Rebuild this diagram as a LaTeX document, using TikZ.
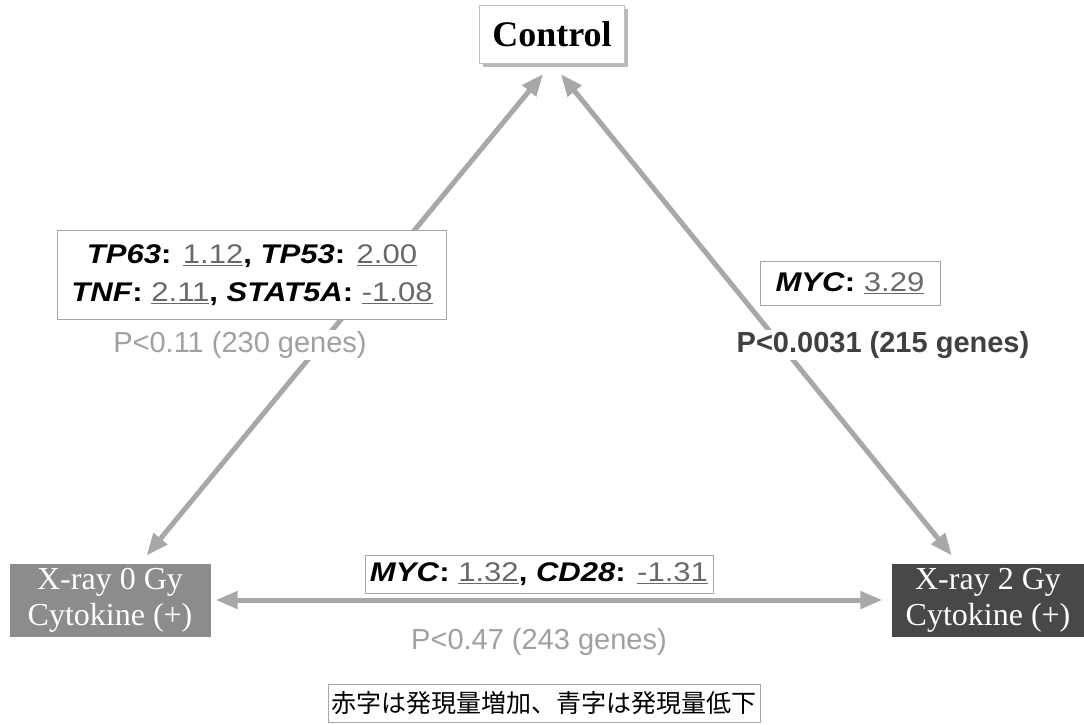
\documentclass[tikz,border=0pt]{standalone}
\usepackage{fontspec}
\setmainfont{Liberation Serif}
\setsansfont{Liberation Sans}
\newfontfamily\genefont[FakeStretch=1.15]{Liberation Sans}
\newfontfamily\jpfont{Noto Sans CJK JP}
\usepackage{xcolor}
\definecolor{arrowgray}{RGB}{168,168,168}
\definecolor{lightcond}{RGB}{140,140,140}
\definecolor{darkcond}{RGB}{72,72,72}
\definecolor{valgray}{RGB}{105,105,105}
\definecolor{pgray}{RGB}{160,160,160}
\definecolor{pdark}{RGB}{64,64,64}
\usetikzlibrary{arrows.meta,shadows}
\newcommand{\gval}[1]{\textcolor{valgray}{\underline{#1}}}
\newcommand{\gname}[1]{\textbf{\textit{#1}:}}
\tikzset{
  ctrlbox/.style={draw=gray!50, fill=white, font=\bfseries\fontsize{36}{40}\selectfont,
                  minimum width=145pt, minimum height=58pt,
                  drop shadow={shadow xshift=3pt, shadow yshift=-4pt, fill=gray!55, opacity=1}},
  condbox/.style={fill=#1, text=white, font=\fontsize{32}{36}\selectfont, align=center,
                  minimum height=73pt, inner sep=0pt},
  genebox/.style={draw=gray!70, line width=0.6pt, fill=white, align=center,
                  font=\genefont\fontsize{27}{38}\selectfont, inner sep=4pt},
  pval/.style={text=#1, fill=white, inner sep=1pt, font=\sffamily\fontsize{29}{32}\selectfont},
  notebox/.style={draw=gray!70, line width=0.6pt, fill=white,
                  font=\jpfont\fontsize{25}{28}\selectfont, minimum width=428pt, minimum height=38pt},
  dblarrow/.style={{Triangle[length=22pt,width=17pt]}-{Triangle[length=22pt,width=17pt]},
                   line width=5pt, draw=arrowgray},
}
\begin{document}
\begin{tikzpicture}[x=1pt, y=-1pt]
\useasboundingbox (0,0) rectangle (1084,724);
% the three conditions
\node[ctrlbox] (ctrl) at (552,34) {Control};
\node[condbox=lightcond, minimum width=201pt] (x0) at (110,600) {X-ray 0 Gy\\Cytokine (+)};
\node[condbox=darkcond, minimum width=193pt] (x2) at (988,600) {X-ray 2 Gy\\Cytokine (+)};

% comparisons
\draw[dblarrow, shorten <=14pt, shorten >=10pt] (ctrl.south) -- (x0);
\draw[dblarrow, shorten <=14pt, shorten >=10pt] (ctrl.south) -- (x2);
\draw[dblarrow, shorten <=5pt, shorten >=9pt] (x0) -- (x2);

% genes and p-values
\node[genebox, minimum width=389pt, minimum height=89pt] (lgenes) at (252,275)
  {\gname{TP63} \gval{1.12}\textbf{,} \gname{TP53} \gval{2.00}\\\gname{TNF} \gval{2.11}\textbf{,} \gname{STAT5A} \gval{-1.08}};
\node[pval=pgray] (lp) at (240,345) {P<0.11 (230 genes)};

\node[genebox, minimum width=180pt, minimum height=44pt] (rgenes) at (850,283)
  {\gname{MYC} \gval{3.29}};
\node[pval=pdark, font=\sffamily\bfseries\fontsize{29}{32}\selectfont] (rp) at (883,345) {P<0.0031 (215 genes)};

\node[genebox, minimum width=348pt, minimum height=38pt] (bgenes) at (539,574)
  {\gname{MYC} \gval{1.32}\textbf{,} \gname{CD28} \gval{-1.31}};
\node[pval=pgray] (bp) at (539,642) {P<0.47 (243 genes)};

% legend
\node[notebox] (note) at (544,703) {赤字は発現量増加、青字は発現量低下};
\end{tikzpicture}
\end{document}
